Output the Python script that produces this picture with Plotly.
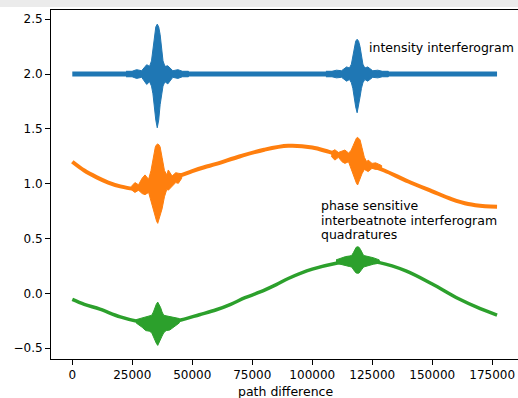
import plotly.graph_objects as go

# ---------------- data ----------------
# baselines (path difference, value)
blue_x = [0, 177000]
blue_y = [2.0, 2.0]

orange_x = [0, 5000, 10000, 15000, 20000, 25000, 30000, 35500, 40000, 45000, 50000,
            55000, 60000, 70000, 80000, 90000, 100000, 107000, 112000, 118700, 125000,
            130000, 140000, 150000, 158000, 165000, 172000, 177000]
orange_y = [1.20, 1.12, 1.06, 1.01, 0.975, 0.955, 0.96, 1.0, 1.04, 1.075, 1.115,
            1.15, 1.18, 1.25, 1.31, 1.345, 1.33, 1.29, 1.26, 1.20, 1.16,
            1.12, 1.02, 0.93, 0.86, 0.815, 0.795, 0.79]

green_x = [0, 5000, 11500, 20000, 28000, 35500, 44000, 53000, 60000, 66000, 72000,
           78000, 85000, 90000, 100000, 110000, 118700, 128000, 139000, 150000,
           161000, 170000, 177000]
green_y = [-0.055, -0.10, -0.145, -0.215, -0.26, -0.28, -0.25, -0.195, -0.15, -0.10, -0.04,
           0.01, 0.08, 0.135, 0.22, 0.275, 0.30, 0.28, 0.205, 0.085,
           -0.05, -0.14, -0.198]

# interferogram bursts: envelope (upper / lower) around each burst centre
blue_burst_centres = [35400, 118700]
blue_off = [-13000, -10500, -8600, -6500, -4400, -3200, -2400, -1800, -1200, -600, 0,
            600, 1200, 1800, 2400, 3200, 4400, 6500, 8600, 10500, 13000]
blue1_up = [2.025, 2.025, 2.04, 2.03, 2.085, 2.07, 2.12, 2.24, 2.36, 2.43, 2.455,
            2.43, 2.36, 2.24, 2.12, 2.07, 2.075, 2.03, 2.04, 2.025, 2.025]
blue1_lo = [1.975, 1.975, 1.96, 1.97, 1.905, 1.93, 1.89, 1.82, 1.72, 1.58, 1.51,
            1.58, 1.72, 1.82, 1.89, 1.93, 1.91, 1.97, 1.96, 1.975, 1.975]
blue2_up = [2.025, 2.025, 2.035, 2.03, 2.065, 2.055, 2.09, 2.17, 2.25, 2.30, 2.317,
            2.30, 2.25, 2.17, 2.09, 2.055, 2.065, 2.03, 2.035, 2.025, 2.025]
blue2_lo = [1.975, 1.975, 1.965, 1.97, 1.935, 1.95, 1.92, 1.87, 1.79, 1.70, 1.647,
            1.70, 1.79, 1.87, 1.92, 1.95, 1.935, 1.97, 1.965, 1.975, 1.975]

orange_burst_centres = [35600, 118900]
orange_off = [-11000, -9500, -8000, -6500, -5300, -3800, -2800, -1800, -1000, -500, 0,
              500, 1000, 1800, 2800, 3800, 4400, 6000, 7500, 8600, 10000]
orange1_up = [0.975, 1.01, 0.99, 1.05, 1.08, 1.04, 1.12, 1.24, 1.335, 1.355, 1.362,
              1.355, 1.335, 1.24, 1.12, 1.08, 1.125, 1.07, 1.10, 1.095, 1.09]
orange1_lo = [0.945, 0.92, 0.94, 0.91, 0.90, 0.92, 0.86, 0.77, 0.70, 0.66, 0.638,
              0.66, 0.70, 0.77, 0.88, 0.95, 0.94, 0.98, 1.01, 1.003, 1.05]
orange2_up = [1.29, 1.31, 1.285, 1.30, 1.307, 1.28, 1.30, 1.35, 1.40, 1.415, 1.423,
              1.415, 1.40, 1.33, 1.24, 1.20, 1.215, 1.185, 1.19, 1.18, 1.165]
orange2_lo = [1.25, 1.215, 1.24, 1.20, 1.185, 1.20, 1.14, 1.09, 1.035, 1.005, 0.988,
              1.005, 1.035, 1.09, 1.13, 1.12, 1.11, 1.14, 1.13, 1.135, 1.125]

green_burst_centres = [35600, 118900]
green_off = [-9000, -6500, -5000, -3500, -2500, -1800, -1200, -600, 0,
             600, 1200, 1800, 2500, 3500, 5000, 6500, 9000]
green1_up = [-0.24, -0.225, -0.215, -0.21, -0.20, -0.17, -0.13, -0.10, -0.08,
             -0.10, -0.13, -0.17, -0.20, -0.205, -0.21, -0.22, -0.23]
green1_lo = [-0.27, -0.31, -0.34, -0.345, -0.36, -0.39, -0.42, -0.455, -0.475,
             -0.455, -0.42, -0.39, -0.36, -0.34, -0.335, -0.31, -0.27]
green2_up = [0.305, 0.325, 0.335, 0.34, 0.345, 0.37, 0.40, 0.42, 0.425,
             0.42, 0.40, 0.37, 0.345, 0.34, 0.335, 0.325, 0.305]
green2_lo = [0.275, 0.265, 0.255, 0.245, 0.24, 0.22, 0.20, 0.185, 0.182,
             0.185, 0.20, 0.22, 0.24, 0.245, 0.255, 0.265, 0.275]

x_ticks = [0, 25000, 50000, 75000, 100000, 125000, 150000, 175000]
y_ticks = [-0.5, 0.0, 0.5, 1.0, 1.5, 2.0, 2.5]

label_main = "intensity interferogram"
label_quad = ["phase sensitive", "interbeatnote interferogram", "quadratures"]
x_title = "path difference"

BLUE, ORANGE, GREEN = "#1f77b4", "#ff7f0e", "#2ca02c"
FONT = "DejaVu Sans"

fig = go.Figure()


def add_series(bx, by, width, color, centres, off, envelopes):
    fig.add_trace(go.Scatter(x=bx, y=by, mode="lines",
                             line=dict(color=color, width=width, shape="spline", smoothing=1.0),
                             hoverinfo="skip", showlegend=False))
    for c, (up, lo) in zip(centres, envelopes):
        xs = [c + o for o in off]
        fig.add_trace(go.Scatter(x=xs + xs[::-1], y=up + lo[::-1], mode="lines", fill="toself",
                                 fillcolor=color, line=dict(color=color, width=1),
                                 hoverinfo="skip", showlegend=False))


add_series(blue_x, blue_y, 5, BLUE, blue_burst_centres, blue_off,
           [(blue1_up, blue1_lo), (blue2_up, blue2_lo)])
add_series(orange_x, orange_y, 4, ORANGE, orange_burst_centres, orange_off,
           [(orange1_up, orange1_lo), (orange2_up, orange2_lo)])
add_series(green_x, green_y, 3.5, GREEN, green_burst_centres, green_off,
           [(green1_up, green1_lo), (green2_up, green2_lo)])

txt = dict(family=FONT, size=12.5, color="black")
quad_y = [0.805, 0.668, 0.540]
annotations = [
    dict(x=122800, y=2.24, xref="x", yref="y", text=label_main,
         showarrow=False, xanchor="left", yanchor="middle", font=txt),
]
for t, yy in zip(label_quad, quad_y):
    annotations.append(dict(x=102900, y=yy, xref="x", yref="y", text=t,
                            showarrow=False, xanchor="left", yanchor="middle", font=txt))
annotations.append(dict(x=88800, y=0, xref="x", yref="paper", yshift=-32, text=x_title,
                        showarrow=False, xanchor="center", yanchor="middle", font=txt))

# the original figure is a little wider than the 518 px window (right spine is cut off)
fig.update_layout(
    width=530, height=398,
    margin=dict(l=51, r=2, t=10, b=39),
    paper_bgcolor="white", plot_bgcolor="white",
    showlegend=False,
    annotations=annotations,
    font=dict(family=FONT, size=12, color="black"),
    shapes=[dict(type="rect", xref="paper", yref="paper", x0=-0.2, x1=1.1,
                 y0=1 + 3.0 / 349, y1=1 + 12.0 / 349, fillcolor="#ebebeb",
                 line=dict(width=0), layer="above")],
)
fig.update_xaxes(range=[-8875, 189900], tickvals=x_ticks, ticktext=[str(v) for v in x_ticks],
                 showgrid=False, zeroline=False, showline=True, linecolor="black", linewidth=1,
                 mirror=True, ticks="outside", ticklen=5, tickcolor="black",
                 tickfont=dict(family=FONT, size=12, color="black"))
fig.update_yaxes(range=[-0.599, 2.584], tickvals=y_ticks, tickformat=".1f",
                 showgrid=False, zeroline=False, showline=True, linecolor="black", linewidth=1,
                 mirror=True, ticks="outside", ticklen=5, tickcolor="black",
                 tickfont=dict(family=FONT, size=12, color="black"))

fig.write_html("out.html", config={"displayModeBar": False})

# remove the browser's default page margin so the figure sits at the window origin
with open("out.html", "r", encoding="utf-8") as f:
    html = f.read()
html = html.replace("<head>", "<head><style>html,body{margin:0;padding:0;overflow:hidden;}</style>", 1)
with open("out.html", "w", encoding="utf-8") as f:
    f.write(html)
